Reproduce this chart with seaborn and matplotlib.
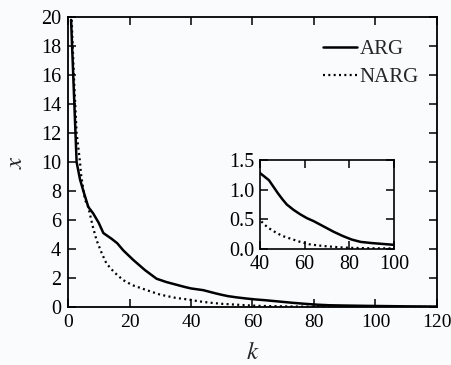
import matplotlib
matplotlib.use("Agg")
import matplotlib.pyplot as plt
import seaborn as sns
import pandas as pd

k_arg = [1, 2.8, 3.9, 5, 6.6, 8.2, 10, 11.5, 14.2, 16, 18, 21.2, 25, 28.8, 32, 35, 38,
         40, 42, 44, 46, 48, 50, 52, 55, 58, 61, 64, 67, 70, 73, 77, 81, 85, 90, 95, 100, 110, 120]
x_arg = [19.8, 10.0, 8.8, 8.0, 6.9, 6.45, 5.8, 5.1, 4.7, 4.4, 3.9, 3.25, 2.55, 1.95, 1.72, 1.55, 1.38,
         1.28, 1.22, 1.16, 1.05, 0.94, 0.84, 0.75, 0.66, 0.585, 0.52, 0.47, 0.41, 0.35, 0.29, 0.22,
         0.16, 0.12, 0.10, 0.085, 0.07, 0.045, 0.03]
k_narg = [1.2, 1.9, 2.8, 3.9, 4.2, 5.5, 6.6, 8, 9.3, 11, 12.5, 15, 17.9, 21, 25.5, 30, 35,
          40, 42, 44, 47, 50, 54, 58, 62, 66, 70, 75, 80, 90, 100, 110, 120]
x_narg = [19.8, 16, 12, 10, 9.2, 7.4, 6.9, 5.6, 4.6, 3.7, 3.0, 2.4, 1.86, 1.5, 1.17, 0.85, 0.63,
          0.49, 0.41, 0.35, 0.28, 0.22, 0.17, 0.12, 0.08, 0.06, 0.045, 0.03, 0.02, 0.012, 0.01,
          0.005, 0.003]
series_names = ["ARG", "NARG"]
main_xticks = [0, 20, 40, 60, 80, 100, 120]
main_yticks = [0, 2, 4, 6, 8, 10, 12, 14, 16, 18, 20]
inset_xticks = [40, 60, 80, 100]
inset_yticks = [0.0, 0.5, 1.0, 1.5]

df = pd.concat([
    pd.DataFrame({"k": k_arg, "x": x_arg, "series": series_names[0]}),
    pd.DataFrame({"k": k_narg, "x": x_narg, "series": series_names[1]}),
], ignore_index=True)

sns.set_style("ticks")
plt.rcParams["font.family"] = ["Liberation Serif", "DejaVu Serif"]
plt.rcParams["mathtext.fontset"] = "stix"

bg = "#fafbfd"
fig = plt.figure(figsize=(4.52, 3.65), dpi=100, facecolor=bg)
W, H = 452, 365
ax = fig.add_axes([68 / W, (H - 307) / H, 369 / W, 290 / H], facecolor=bg)

styles = {"ARG": dict(ls="-", lw=1.8), "NARG": dict(ls=(0, (0.9, 1.5)), lw=1.6)}

for name in series_names:
    sub = df[df.series == name]
    sns.lineplot(data=sub, x="k", y="x", ax=ax, color="black", label=name,
                 linestyle=styles[name]["ls"], linewidth=styles[name]["lw"],
                 estimator=None, sort=False)

ax.set_xlim(0, 120)
ax.set_ylim(0, 20)
ax.set_xticks(main_xticks)
ax.set_yticks(main_yticks)
ax.tick_params(direction="in", length=6, width=1.1, top=True, right=True,
               labelsize=14.5, pad=5, colors="black")
ax.tick_params(axis="x", labelsize=14)
for s in ax.spines.values():
    s.set_linewidth(1.3)
    s.set_color("black")
ax.set_xlabel("$k$", fontsize=18, labelpad=8)
ax.set_ylabel("$x$", fontsize=18, labelpad=10)

leg = ax.legend(loc="upper right", bbox_to_anchor=(0.985, 0.965), frameon=False,
                fontsize=15, handlelength=1.6, handletextpad=0.15,
                labelspacing=0.4, borderaxespad=0.2)

ins = fig.add_axes([260 / W, (H - 249) / H, 134 / W, 89 / H], facecolor=bg)
for name in series_names:
    sub = df[df.series == name]
    sns.lineplot(data=sub, x="k", y="x", ax=ins, color="black",
                 linestyle=styles[name]["ls"], linewidth=styles[name]["lw"],
                 estimator=None, sort=False, legend=False)
ins.set_xlim(40, 100)
ins.set_ylim(0, 1.5)
ins.set_xticks(inset_xticks)
ins.set_yticks(inset_yticks)
ins.set_yticklabels([f"{v:.1f}" for v in inset_yticks])
ins.tick_params(direction="in", length=6, width=1.1, top=True, right=True,
                labelsize=14.5, pad=4, colors="black")
ins.set_xlabel("")
ins.set_ylabel("")
for s in ins.spines.values():
    s.set_linewidth(1.2)
    s.set_color("black")

fig.savefig("out.png", dpi=100, facecolor=bg)
